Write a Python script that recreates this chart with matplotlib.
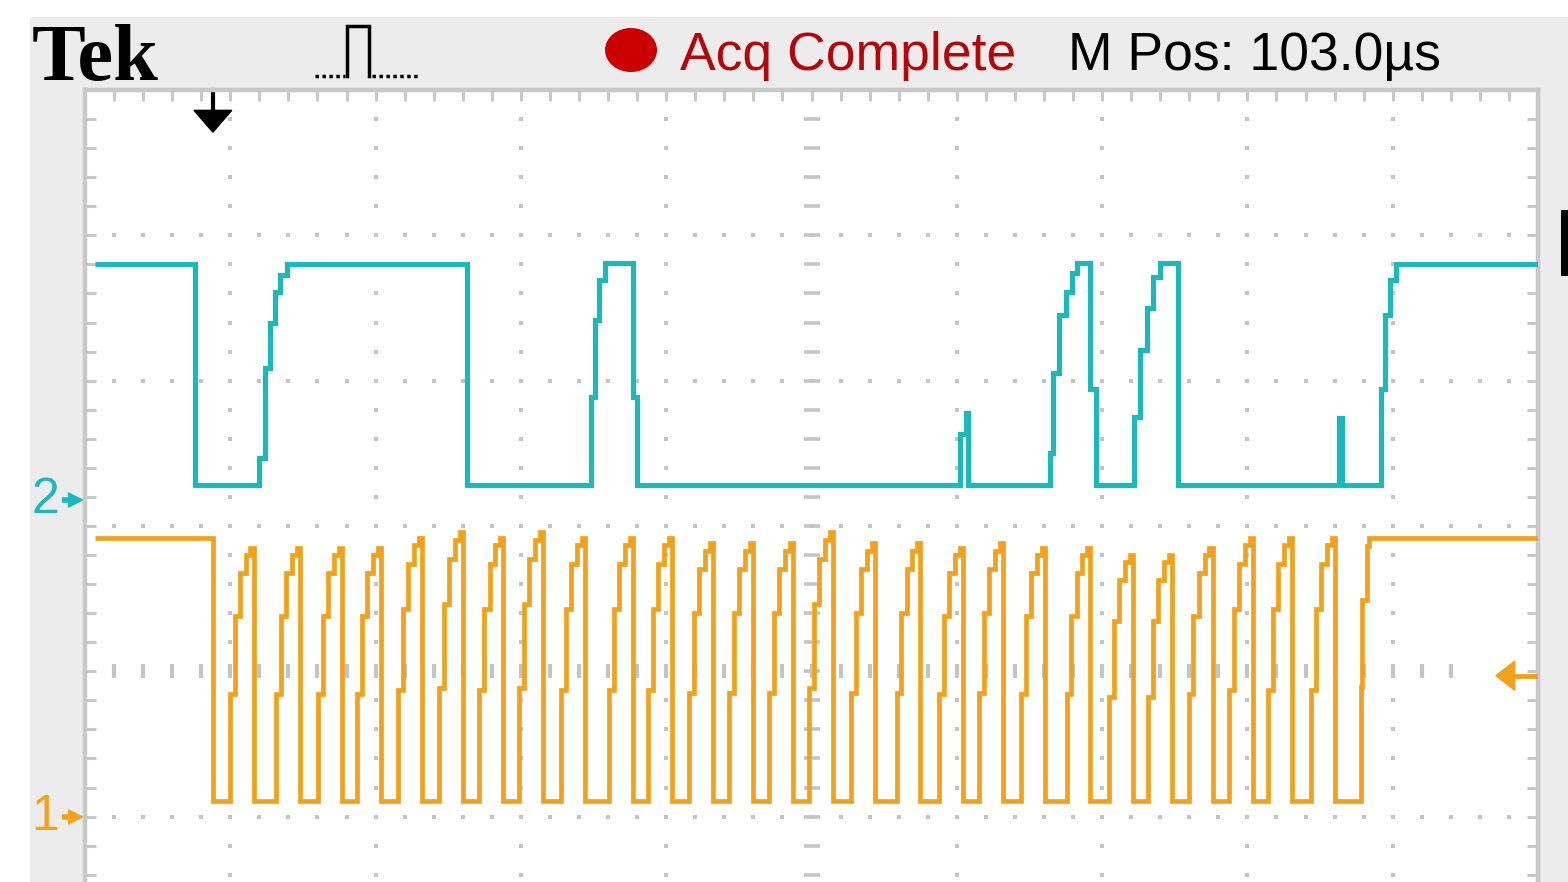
import numpy as np
import matplotlib
matplotlib.use('Agg')
import matplotlib.pyplot as plt
from matplotlib.patches import Ellipse, Rectangle, Polygon
from matplotlib.lines import Line2D

W, H = 1568, 882

CYAN = '#1bb8bc'
ORANGE = '#f3a11a'
GRID = '#c4c4c4'
SANS = ['Liberation Sans', 'DejaVu Sans']

# screen units are scope divisions: 10 across, y = 0 is the centre line
# channel 2 (cyan): value holds from each time until the next one
ch2_t = [0.07, 0.76, 1.20, 1.24, 1.27, 1.31, 1.34, 1.39, 2.63,
         3.48, 3.51, 3.54, 3.58, 3.77, 3.80,
         6.02, 6.06, 6.08,
         6.64, 6.66, 6.70, 6.75, 6.79, 6.83, 6.92, 6.96,
         7.22, 7.26, 7.31, 7.35, 7.40, 7.52,
         8.63, 8.65,
         8.92, 8.95, 8.98, 9.02, 10.0]
ch2_v = [2.80, 1.28, 1.47, 2.09, 2.40, 2.61, 2.73, 2.80, 1.28,
         1.89, 2.42, 2.69, 2.81, 1.89, 1.28,
         1.63, 1.78, 1.28,
         1.50, 2.05, 2.45, 2.61, 2.74, 2.81, 1.94, 1.28,
         1.75, 2.21, 2.50, 2.71, 2.81, 1.28,
         1.74, 1.28,
         1.94, 2.45, 2.69, 2.80, 2.80]

# channel 1 (orange) clock
ch1_start = 0.07
ch1_idle = 0.92
ch1_low = -0.89
ch1_first_fall = 0.88
# falling edge of each clock pulse and the top it reached
clk_fall = [1.16, 1.48, 1.77, 2.04, 2.32, 2.60, 2.88, 3.15, 3.44,
            3.77, 4.04, 4.32, 4.60, 4.87, 5.15, 5.44, 5.75, 6.04, 6.32,
            6.61, 6.92, 7.21, 7.48, 7.76, 8.04, 8.31, 8.60]
clk_top = [0.85, 0.85, 0.85, 0.85, 0.92, 0.96, 0.92, 0.96, 0.92,
           0.92, 0.92, 0.88, 0.88, 0.88, 0.96, 0.88, 0.88, 0.85, 0.88,
           0.85, 0.85, 0.80, 0.80, 0.85, 0.92, 0.92, 0.92]
# the slow staircase rise before each fall (offset, fraction of swing)
rise_dt = [-0.165, -0.131, -0.096, -0.055, -0.021]
rise_frac = [0.42, 0.73, 0.90, 0.97, 1.0]
# last edge back up to idle
ch1_end_t = [8.78, 8.79, 8.82, 8.84, 10.0]
ch1_end_v = [-0.11, 0.49, 0.86, 0.92, 0.92]

ch2_ref = 1.18
ch1_ref = -1.0
trig_pos = 0.88
trig_level = -0.03


def fx(px):
    return px / W


def fy(py):
    return 1 - py / H


def clock_trace():
    t = [ch1_start, ch1_first_fall]
    v = [ch1_idle, ch1_low]
    for fall, top in zip(clk_fall, clk_top):
        for dt, frac in zip(rise_dt, rise_frac):
            t.append(fall + dt)
            v.append(ch1_low + frac * (top - ch1_low))
        t.append(fall)
        v.append(ch1_low)
    return t + ch1_end_t, v + ch1_end_v


fig = plt.figure(figsize=(W / 100, H / 100), dpi=100)
fig.patch.set_facecolor('white')
fig.add_artist(Rectangle((fx(30), 0), 1 - fx(30), fy(17), transform=fig.transFigure,
                         facecolor='#ececec', edgecolor='none', zorder=0))

ax = fig.add_axes([fx(85), 0, fx(1538) - fx(85), fy(90)])
ax.set_xlim(0, 10)
ax.set_ylim(-1.45, 4)
ax.set_facecolor('white')
for side in ['left', 'right', 'top']:
    ax.spines[side].set_color('#c8c8c8')
    ax.spines[side].set_linewidth(3.2)
ax.spines['bottom'].set_visible(False)

# border ticks every fifth of a division
ax.set_xticks(np.arange(0.2, 9.9, 0.2))
ax.set_yticks(np.arange(-1.4, 3.9, 0.2))
ax.tick_params(direction='in', length=8, width=2.2, color='#c8c8c8',
               top=True, bottom=False, left=True, right=True,
               labeltop=False, labelbottom=False, labelleft=False, labelright=False)

# dotted graticule
minor_x = np.arange(0.2, 9.9, 0.2)
minor_y = np.arange(-1.4, 3.9, 0.2)
for gx in [1, 2, 3, 4, 6, 7, 8, 9]:
    ax.plot(np.full(len(minor_y), gx), minor_y, 's', ms=2.5, color=GRID, mew=0, zorder=1)
for gy in [-1, 1, 2, 3]:
    ax.plot(minor_x, np.full(len(minor_x), gy), 's', ms=2.5, color=GRID, mew=0, zorder=1)
ax.plot(np.full(len(minor_y), 5), minor_y, '_', ms=11, mew=2.6, color=GRID, zorder=1)
mid_x = minor_x[minor_x < 9.6]
ax.plot(mid_x, np.zeros(len(mid_x)), '|', ms=10, mew=3, color=GRID, zorder=1)

# traces
ax.plot(ch2_t, ch2_v, drawstyle='steps-post', color=CYAN, lw=3.7,
        solid_joinstyle='miter', solid_capstyle='butt', zorder=3)
t1, v1 = clock_trace()
ax.plot(t1, v1, drawstyle='steps-post', color=ORANGE, lw=3.4,
        solid_joinstyle='miter', solid_capstyle='butt', zorder=3)

# channel reference markers on the left
for name, ref, col in [('2', ch2_ref, CYAN), ('1', ch1_ref, ORANGE)]:
    ax.text(-0.37, ref, name, color=col, fontsize=36, family=SANS,
            ha='left', va='center', clip_on=False)
    ax.plot([-0.16, -0.08], [ref, ref], color=col, lw=4, clip_on=False, solid_capstyle='butt')
    ax.plot([-0.065], [ref], '>', ms=12, color=col, mew=0, clip_on=False)

# trigger position (top) and trigger level (right)
ax.plot([trig_pos, trig_pos], [4.0, 3.85], color='black', lw=3, clip_on=False)
ax.add_patch(Polygon([(trig_pos - 0.13, 3.86), (trig_pos + 0.13, 3.86), (trig_pos, 3.71)],
                     closed=True, color='black', clip_on=False, zorder=4))
ax.add_patch(Polygon([(9.71, trig_level), (9.84, trig_level + 0.1), (9.84, trig_level - 0.1)],
                     closed=True, color=ORANGE, clip_on=False, zorder=4))
ax.plot([9.83, 9.99], [trig_level, trig_level], color=ORANGE, lw=3.5, zorder=4)

# header
fig.text(fx(32), fy(80), 'Tek', fontsize=58, family=['Liberation Serif', 'DejaVu Serif'],
         fontweight='bold', ha='left', va='baseline')
fig.add_artist(Line2D([fx(315), fx(345)], [fy(76), fy(76)], transform=fig.transFigure,
                      color='black', lw=2.5, linestyle=(0, (1, 1))))
fig.add_artist(Line2D([fx(347), fx(347), fx(369), fx(369)], [fy(76), fy(26), fy(26), fy(76)],
                      transform=fig.transFigure, color='black', lw=2.5, solid_joinstyle='miter'))
fig.add_artist(Line2D([fx(372), fx(418)], [fy(76), fy(76)], transform=fig.transFigure,
                      color='black', lw=2.5, linestyle=(0, (1, 1))))
fig.add_artist(Ellipse((fx(631), fy(50)), fx(52), 44 / H, transform=fig.transFigure,
                       facecolor='#cc0000', edgecolor='none'))
fig.text(fx(680), fy(70), 'Acq Complete', fontsize=38.5, family=SANS, color='#b5070a',
         ha='left', va='baseline')
fig.text(fx(1068), fy(70), 'M Pos: 103.0µs', fontsize=38.5, family=SANS, color='black',
         ha='left', va='baseline')

# clipped readout bar at the right edge
fig.add_artist(Rectangle((fx(1561), fy(276)), fx(7), 66 / H, transform=fig.transFigure,
                         facecolor='black', edgecolor='none'))

fig.savefig('out.png', dpi=100)
